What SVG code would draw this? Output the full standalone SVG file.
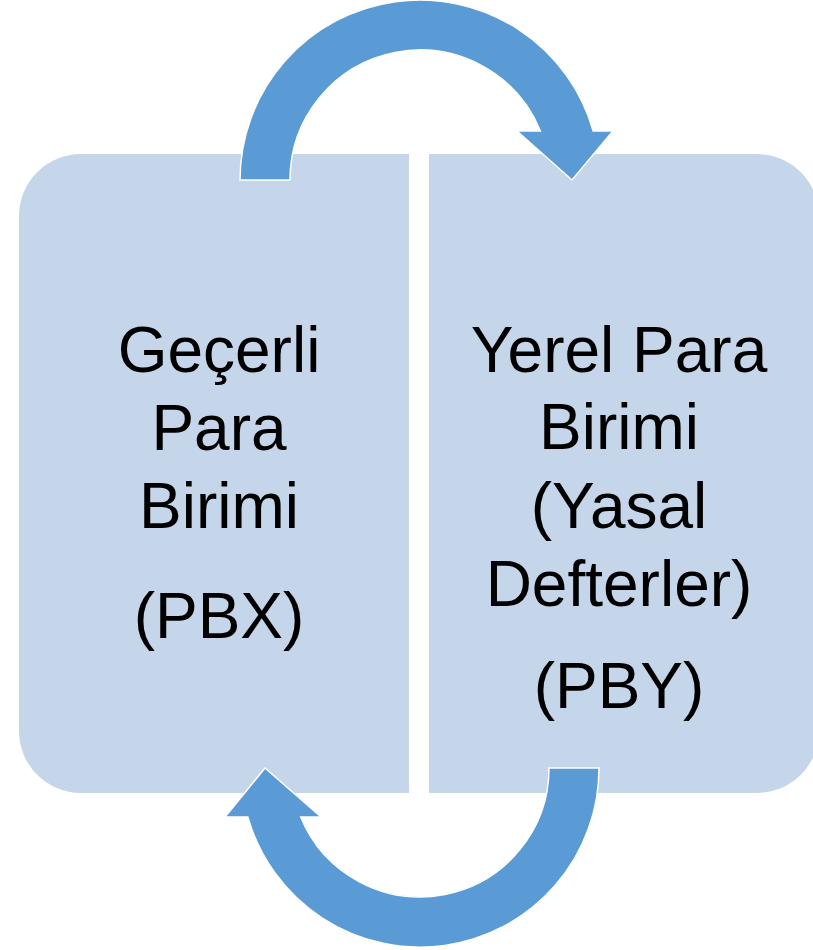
<svg xmlns="http://www.w3.org/2000/svg" width="813" height="950" viewBox="0 0 813 950">
<style>
.box{fill:#C5D5EA}
.arr{fill:#5B9BD5;stroke:#FFFFFF;stroke-width:1.5;stroke-linejoin:miter}
.t{font-family:"Liberation Sans",Arial,sans-serif;font-size:64px;fill:#000000;text-anchor:middle}
</style>
<rect width="813" height="950" fill="#FFFFFF"/>
<g id="node-left">
<path class="box" d="M81,154 L409,154 L409,793 L81,793 A62,62 0 0 1 19,731 L19,216 A62,62 0 0 1 81,154 Z"/>
<text class="t" x="219" y="372">Geçerli</text>
<text class="t" x="219" y="450">Para</text>
<text class="t" x="219" y="528">Birimi</text>
<text class="t" x="219" y="638">(PBX)</text>
</g>
<g id="node-right">
<path class="box" d="M429,154 L757,154 A62,62 0 0 1 819,216 L819,731 A62,62 0 0 1 757,793 L429,793 Z"/>
<text class="t" x="619" y="372">Yerel Para</text>
<text class="t" x="619" y="449">Birimi</text>
<text class="t" x="619" y="528">(Yasal</text>
<text class="t" x="619" y="606">Defterler)</text>
<text class="t" x="619" y="708">(PBY)</text>
</g>
<g id="connectors">
<path class="arr" d="M240,180 A180,180 0 0 1 593.2,131 L613,131 L572,180 L517,131 L540.4,131 A130,130 0 0 0 290,180 Z"/>
<path class="arr" d="M599,768 A179,179 0 0 1 247.8,817 L225,817 L265,768 L321,817 L300.7,817 A129,129 0 0 0 549,768 Z"/>
</g>
</svg>
